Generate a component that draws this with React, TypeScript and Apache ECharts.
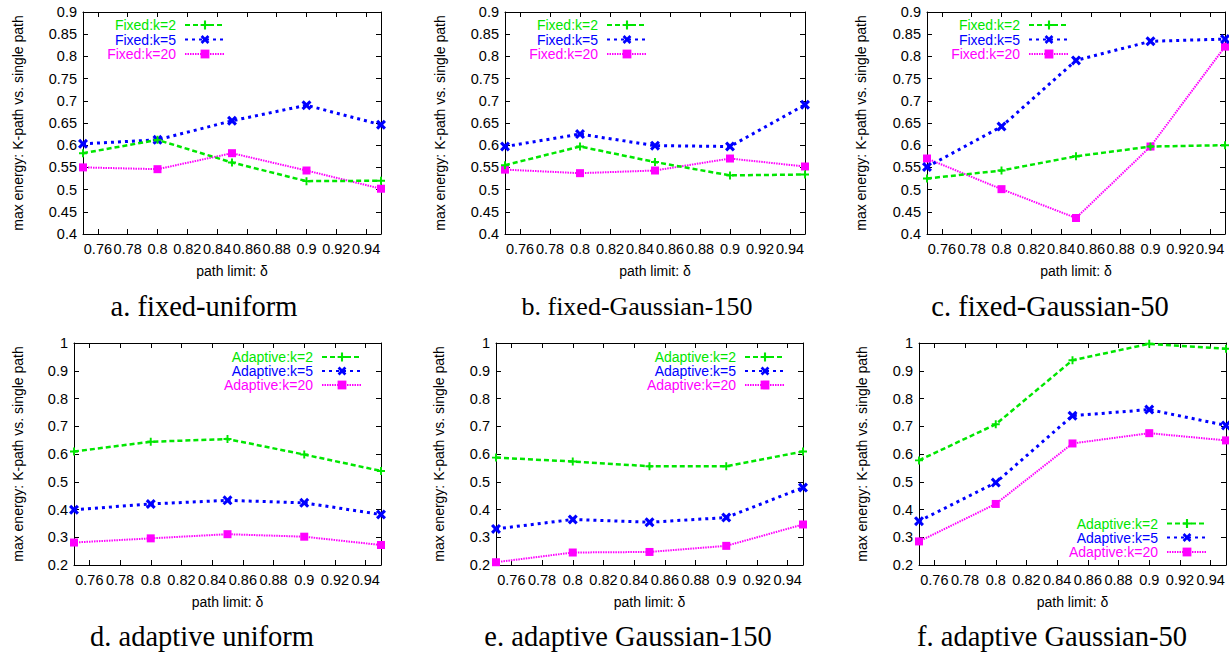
import React, { useEffect, useRef } from "react";
import * as echarts from "echarts";

// ---------- data ----------
const deltas = [0.75, 0.8, 0.85, 0.9, 0.95];
const xTicks = [0.76, 0.78, 0.8, 0.82, 0.84, 0.86, 0.88, 0.9, 0.92, 0.94];

const fixedNames = ["Fixed:k=2", "Fixed:k=5", "Fixed:k=20"];
const adaptiveNames = ["Adaptive:k=2", "Adaptive:k=5", "Adaptive:k=20"];

// a. fixed-uniform
const fixedUniformK2 = [0.582, 0.612, 0.561, 0.519, 0.52];
const fixedUniformK5 = [0.603, 0.612, 0.655, 0.69, 0.646];
const fixedUniformK20 = [0.55, 0.546, 0.582, 0.543, 0.502];
// b. fixed-Gaussian-150
const fixedGauss150K2 = [0.555, 0.597, 0.562, 0.532, 0.534];
const fixedGauss150K5 = [0.597, 0.625, 0.599, 0.597, 0.691];
const fixedGauss150K20 = [0.545, 0.537, 0.543, 0.57, 0.552];
// c. fixed-Gaussian-50
const fixedGauss50K2 = [0.525, 0.543, 0.575, 0.597, 0.6];
const fixedGauss50K5 = [0.551, 0.642, 0.791, 0.834, 0.839];
const fixedGauss50K20 = [0.57, 0.501, 0.436, 0.597, 0.822];
// d. adaptive uniform
const adaptiveUniformK2 = [0.609, 0.644, 0.654, 0.598, 0.539];
const adaptiveUniformK5 = [0.399, 0.42, 0.433, 0.424, 0.382];
const adaptiveUniformK20 = [0.281, 0.296, 0.311, 0.302, 0.272];
// e. adaptive Gaussian-150
const adaptiveGauss150K2 = [0.587, 0.573, 0.556, 0.556, 0.609];
const adaptiveGauss150K5 = [0.33, 0.364, 0.354, 0.371, 0.479];
const adaptiveGauss150K20 = [0.21, 0.245, 0.247, 0.269, 0.346];
// f. adaptive Gaussian-50
const adaptiveGauss50K2 = [0.577, 0.707, 0.938, 0.997, 0.979];
const adaptiveGauss50K5 = [0.358, 0.497, 0.738, 0.76, 0.703];
const adaptiveGauss50K20 = [0.285, 0.42, 0.638, 0.675, 0.649];

const captions = [
  "a. fixed-uniform",
  "b. fixed-Gaussian-150",
  "c. fixed-Gaussian-50",
  "d. adaptive uniform",
  "e. adaptive Gaussian-150",
  "f. adaptive Gaussian-50",
];

const yLabel = "max energy: K-path vs. single path";
const xLabel = "path limit: δ";

// ---------- layout & style ----------
const FONT = "'Liberation Sans', Arial, Helvetica, sans-serif";
const SERIF = "'Liberation Serif', 'Times New Roman', Times, serif";
const GREEN = "#00e600";
const BLUE = "#0000ff";
const MAGENTA = "#ff00ff";

const PLUS = "path://M3.8,0H6.2V3.8H10V6.2H6.2V10H3.8V6.2H0V3.8H3.8Z";
const CROSS = "path://M0,2.2L2.2,0L5,2.8L7.8,0L10,2.2L7.2,5L10,7.8L7.8,10L5,7.2L2.2,10L0,7.8L2.8,5Z";

const panels = [
  { series: [fixedUniformK2, fixedUniformK5, fixedUniformK20], names: fixedNames, yMin: 0.4, yMax: 0.9, yInt: 0.05,
    grid: { left: 83, top: 12, width: 298, height: 222 }, yGap: 58, legRight: 1003, legRows: [25, 39.5, 54], cap: [204, 306], capSize: 28.5 },
  { series: [fixedGauss150K2, fixedGauss150K5, fixedGauss150K20], names: fixedNames, yMin: 0.4, yMax: 0.9, yInt: 0.05,
    grid: { left: 505, top: 12, width: 300, height: 222 }, yGap: 58, legRight: 581, legRows: [25, 39.5, 54], cap: [637, 306], capSize: 26 },
  { series: [fixedGauss50K2, fixedGauss50K5, fixedGauss50K20], names: fixedNames, yMin: 0.4, yMax: 0.9, yInt: 0.05,
    grid: { left: 927, top: 12, width: 298, height: 222 }, yGap: 59, legRight: 159, legRows: [25, 39.5, 54], cap: [1050, 306], capSize: 28.5 },
  { series: [adaptiveUniformK2, adaptiveUniformK5, adaptiveUniformK20], names: adaptiveNames, yMin: 0.2, yMax: 1, yInt: 0.1,
    grid: { left: 74, top: 343, width: 307, height: 222 }, yGap: 49, legRight: 866, legRows: [357, 371, 385], cap: [202, 636], capSize: 28.5 },
  { series: [adaptiveGauss150K2, adaptiveGauss150K5, adaptiveGauss150K20], names: adaptiveNames, yMin: 0.2, yMax: 1, yInt: 0.1,
    grid: { left: 496, top: 343, width: 307, height: 222 }, yGap: 50, legRight: 443, legRows: [357, 371, 385], cap: [628, 636], capSize: 28.5 },
  { series: [adaptiveGauss50K2, adaptiveGauss50K5, adaptiveGauss50K20], names: adaptiveNames, yMin: 0.2, yMax: 1, yInt: 0.1,
    grid: { left: 919, top: 343, width: 307, height: 222 }, yGap: 50, legRight: 21, legRows: [523.5, 537.5, 552], cap: [1052, 636], capSize: 28.5 },
];

const seriesStyles = [
  { color: GREEN, line: { width: 2.5, type: [5, 3] as number[] }, symbol: PLUS, size: 8 },
  { color: BLUE, line: { width: 3, type: [3, 4] as number[] }, symbol: CROSS, size: 10 },
  { color: MAGENTA, line: { width: 2, type: [1.5, 1] as number[] }, symbol: "rect", size: 8 },
];

function buildOption() {
  const grid: any[] = [];
  const xAxis: any[] = [];
  const yAxis: any[] = [];
  const series: any[] = [];
  const legend: any[] = [];
  const graphic: any[] = [];

  const axisLine = { show: true, lineStyle: { color: "#000", width: 1 } };
  const tick = { show: true, inside: true, length: 5, lineStyle: { color: "#000", width: 1 } };
  const labelStyle = { color: "#000", fontSize: 14.5, fontFamily: FONT };

  panels.forEach((p, i) => {
    grid.push({ ...p.grid, containLabel: false });
    xAxis.push({
      type: "value", gridIndex: i, position: "bottom", min: 0.75, max: 0.95,
      axisLine, axisTick: { ...tick, customValues: xTicks },
      axisLabel: { ...labelStyle, margin: 7, customValues: xTicks },
      splitLine: { show: false },
      name: xLabel, nameLocation: "middle", nameGap: 30,
      nameTextStyle: { color: "#000", fontSize: 14, fontFamily: FONT },
    });
    xAxis.push({
      type: "value", gridIndex: i, position: "top", min: 0.75, max: 0.95,
      axisLine, axisTick: { ...tick, customValues: xTicks },
      axisLabel: { show: false }, splitLine: { show: false },
    });
    yAxis.push({
      type: "value", gridIndex: i, position: "left", min: p.yMin, max: p.yMax, interval: p.yInt,
      axisLine, axisTick: tick,
      axisLabel: { ...labelStyle, margin: 6 },
      splitLine: { show: false },
      name: yLabel, nameLocation: "middle", nameGap: p.yGap,
      nameTextStyle: { color: "#000", fontSize: 14, fontFamily: FONT },
    });
    yAxis.push({
      type: "value", gridIndex: i, position: "right", min: p.yMin, max: p.yMax, interval: p.yInt,
      axisLine, axisTick: tick, axisLabel: { show: false }, splitLine: { show: false },
    });

    p.series.forEach((vals, k) => {
      const st = seriesStyles[k];
      series.push({
        type: "line",
        name: p.names[k],
        xAxisIndex: i * 2,
        yAxisIndex: i * 2,
        data: deltas.map((d, j) => [d, vals[j]]),
        symbol: st.symbol,
        symbolSize: st.size,
        showSymbol: true,
        clip: false,
        lineStyle: { color: st.color, width: st.line.width, type: st.line.type },
        itemStyle: { color: st.color },
        emphasis: { disabled: true },
        z: 3 - k,
      });
      legend.push({
        data: [p.names[k]],
        right: p.legRight,
        top: p.legRows[k] - 7,
        orient: "horizontal",
        align: "right",
        itemWidth: 40,
        itemHeight: 11,
        padding: 0,
        selectedMode: false,
        textStyle: { color: st.color, fontSize: 14, fontFamily: FONT, lineHeight: 14, padding: [0, 4, 0, 0] },
      });
    });

    graphic.push({
      type: "text",
      x: p.cap[0],
      y: p.cap[1],
      style: {
        text: captions[i],
        fill: "#000",
        fontSize: p.capSize,
        fontFamily: SERIF,
        textAlign: "center",
        textVerticalAlign: "middle",
      },
    });
  });

  return {
    animation: false,
    backgroundColor: "#fff",
    grid, xAxis, yAxis, series, legend, graphic,
  };
}

export default function App() {
  const ref = useRef<HTMLDivElement>(null);
  useEffect(() => {
    if (!ref.current) return;
    const chart = echarts.init(ref.current, undefined, { renderer: "svg" });
    chart.setOption(buildOption() as any);
    return () => chart.dispose();
  }, []);
  return (
    <div
      ref={ref}
      style={{ position: "absolute", left: 0, top: 0, width: 1229, height: 655, background: "#fff" }}
    />
  );
}
